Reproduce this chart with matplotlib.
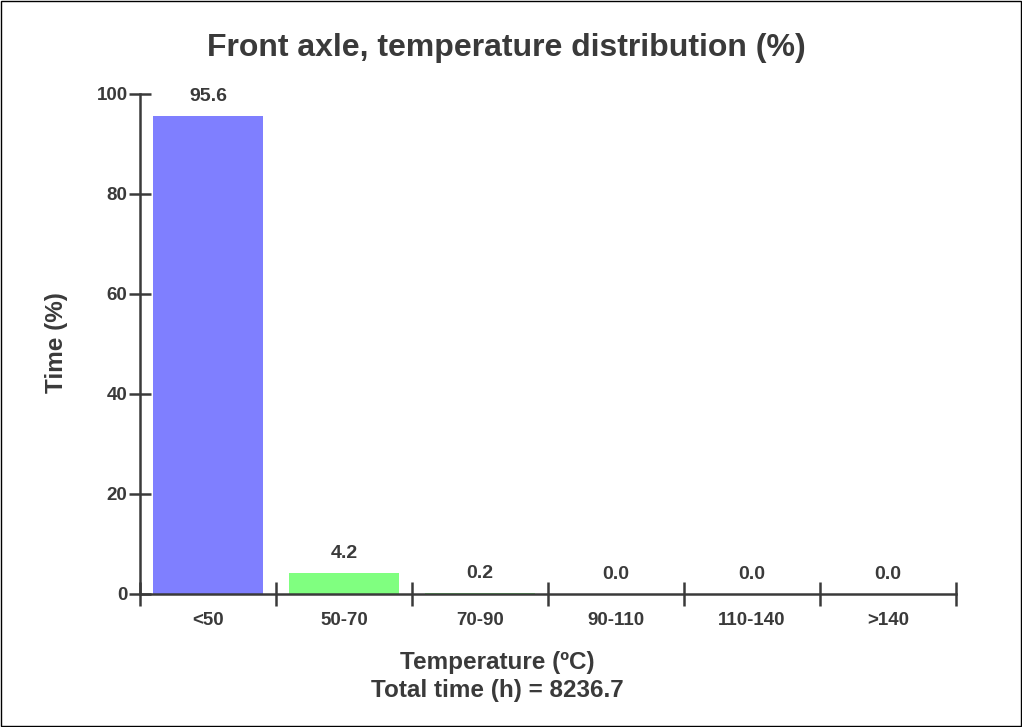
import matplotlib
matplotlib.use("Agg")
import matplotlib.pyplot as plt
from matplotlib.patches import Rectangle
import numpy as np

categories = ["<50", "50-70", "70-90", "90-110", "110-140", ">140"]
values = [95.6, 4.2, 0.2, 0.0, 0.0, 0.0]
colors = ["#7f7fff", "#80ff80", "#80ff80", "#80ff80", "#80ff80", "#80ff80"]
y_ticks = [0, 20, 40, 60, 80, 100]
total_time = 8236.7

TXT = "#3a3a3a"
plt.rcParams['font.family'] = ['Liberation Sans', 'DejaVu Sans']
plt.rcParams['font.weight'] = 'bold'

W, H = 1022, 727
fig = plt.figure(figsize=(W / 100, H / 100), dpi=100)
ax = fig.add_axes([140 / W, 1 - 594 / H, (956 - 140) / W, (594 - 94) / H])

x = np.arange(len(categories))
ax.bar(x, values, width=0.81, color=colors, zorder=2)
for xi, v in zip(x, values):
    ax.annotate(f"{v:.1f}", (xi, v), xytext=(0, 8), textcoords="offset points",
                ha="center", va="bottom", fontsize=14, fontweight="bold", color=TXT)

ax.set_xlim(-0.5, len(categories) - 0.5)
ax.set_ylim(0, 100)
ax.set_yticks(y_ticks)
ax.set_yticklabels([str(t) for t in y_ticks])
ax.set_xticks(np.arange(len(categories) + 1) - 0.5)
ax.set_xticklabels([])
ax.set_xticks(x, minor=True)
ax.set_xticklabels(categories, minor=True)
ax.tick_params(axis="x", which="major", direction="inout", length=17, width=1.8, color=TXT)
ax.tick_params(axis="x", which="minor", length=0, pad=13, labelsize=13.5, labelcolor=TXT)
ax.tick_params(axis="y", direction="inout", length=16, width=1.8, color=TXT,
               labelsize=13.5, labelcolor=TXT, pad=1)
for s in ["top", "right"]:
    ax.spines[s].set_visible(False)
for s in ["left", "bottom"]:
    ax.spines[s].set_linewidth(1.8)
    ax.spines[s].set_color(TXT)
for lbl in ax.get_xticklabels(minor=True) + ax.get_yticklabels():
    lbl.set_fontweight("bold")

fig.text(506 / W, 1 - 48 / H, "Front axle, temperature distribution (%)",
         ha="center", va="center", fontsize=23, fontweight="bold", color=TXT)
fig.text(57 / W, 1 - 343 / H, "Time (%)", rotation=90, ha="center", va="center",
         fontsize=17.5, fontweight="bold", color=TXT)
fig.text(497 / W, 1 - 662 / H, "Temperature (ºC)", ha="center", va="center",
         fontsize=17.5, fontweight="bold", color=TXT)
fig.text(497 / W, 1 - 690 / H, f"Total time (h) = {total_time}", ha="center", va="center",
         fontsize=17.5, fontweight="bold", color=TXT)

fig.patches.append(Rectangle((0.0005, 0.0007), 0.999, 0.9986, transform=fig.transFigure,
                             fill=False, edgecolor="black", linewidth=1))

fig.savefig("out.png", dpi=100)
